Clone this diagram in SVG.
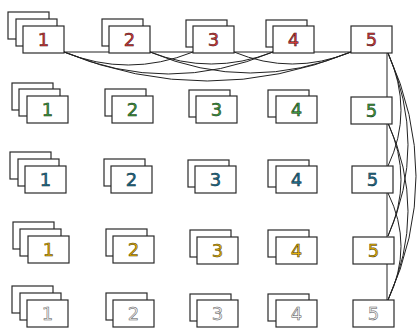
<svg xmlns="http://www.w3.org/2000/svg" width="418" height="329" viewBox="0 0 418 329">
<style>
.c{fill:#fff;stroke:#2a2a2a;stroke-width:1.2}
.e{fill:none;stroke:#222;stroke-width:1}
text{font-family:"DejaVu Sans",sans-serif;font-size:18px;text-anchor:middle;stroke-width:0.5}
.r1{fill:#d63a3a;stroke:#3a1010}
.r2{fill:#3f9a3f;stroke:#123312}
.r3{fill:#1c6f8c;stroke:#0d2a36}
.r4{fill:#e7b10a;stroke:#4a3a00}
.r5{fill:#f4f4f4;stroke:#555}
</style>
<g id="connectors">
<path class="e" d="M64,52 L109,52"/>
<path class="e" d="M64,52 Q128,78 193,52"/>
<path class="e" d="M64,52 Q168,96 273,52"/>
<path class="e" d="M64,52 Q207,110 351,52"/>
<path class="e" d="M150,52 L193,52"/>
<path class="e" d="M150,52 Q211,76 273,52"/>
<path class="e" d="M150,52 Q250,94 351,52"/>
<path class="e" d="M234,52 L273,52"/>
<path class="e" d="M234,52 Q292,76 351,52"/>
<path class="e" d="M314,52 L351,52"/>
<path class="e" d="M387,53 L387,300"/>
<path class="e" d="M388,53 Q414,111 388,166"/>
<path class="e" d="M388,53 Q428,145 388,236"/>
<path class="e" d="M388,53 Q444,176 388,300"/>
<path class="e" d="M388,123 Q414,180 388,236"/>
<path class="e" d="M388,123 Q428,211 388,300"/>
<path class="e" d="M388,193 Q414,246 388,300"/>
</g>
<g id="n1-1"><rect class="c" x="8" y="12" width="41" height="27"/><rect class="c" x="16" y="19" width="41" height="27"/><rect class="c" x="23" y="26" width="41" height="27"/><text class="r1" x="43.5" y="45.5">1</text></g>
<g id="n1-2"><rect class="c" x="102" y="19" width="41" height="27"/><rect class="c" x="109" y="26" width="41" height="27"/><text class="r1" x="129.5" y="45.5">2</text></g>
<g id="n1-3"><rect class="c" x="186" y="20" width="41" height="27"/><rect class="c" x="193" y="26" width="41" height="27"/><text class="r1" x="213.5" y="45.5">3</text></g>
<g id="n1-4"><rect class="c" x="266" y="20" width="41" height="27"/><rect class="c" x="273" y="26" width="41" height="27"/><text class="r1" x="293.5" y="45.5">4</text></g>
<g id="n1-5"><rect class="c" x="351" y="26" width="41" height="27"/><text class="r1" x="371.5" y="45.5">5</text></g>

<g id="n2-1"><rect class="c" x="12" y="83" width="41" height="27"/><rect class="c" x="19" y="89" width="41" height="27"/><rect class="c" x="27" y="96" width="41" height="27"/><text class="r2" x="47.5" y="115.5">1</text></g>
<g id="n2-2"><rect class="c" x="105" y="89" width="41" height="27"/><rect class="c" x="112" y="96" width="41" height="27"/><text class="r2" x="132.5" y="115.5">2</text></g>
<g id="n2-3"><rect class="c" x="189" y="90" width="41" height="27"/><rect class="c" x="196" y="96" width="41" height="27"/><text class="r2" x="216.5" y="115.5">3</text></g>
<g id="n2-4"><rect class="c" x="268" y="90" width="41" height="27"/><rect class="c" x="276" y="96" width="41" height="27"/><text class="r2" x="296.5" y="115.5">4</text></g>
<g id="n2-5"><rect class="c" x="351" y="97" width="41" height="27"/><text class="r2" x="371.5" y="116.5">5</text></g>

<g id="n3-1"><rect class="c" x="10" y="152" width="41" height="27"/><rect class="c" x="18" y="159" width="41" height="27"/><rect class="c" x="25" y="166" width="41" height="27"/><text class="r3" x="45.5" y="185.5">1</text></g>
<g id="n3-2"><rect class="c" x="104" y="159" width="41" height="27"/><rect class="c" x="111" y="166" width="41" height="27"/><text class="r3" x="131.5" y="185.5">2</text></g>
<g id="n3-3"><rect class="c" x="188" y="160" width="41" height="27"/><rect class="c" x="195" y="166" width="41" height="27"/><text class="r3" x="215.5" y="185.5">3</text></g>
<g id="n3-4"><rect class="c" x="268" y="160" width="41" height="27"/><rect class="c" x="276" y="166" width="41" height="27"/><text class="r3" x="296.5" y="185.5">4</text></g>
<g id="n3-5"><rect class="c" x="352" y="166" width="41" height="27"/><text class="r3" x="372.5" y="185.5">5</text></g>

<g id="n4-1"><rect class="c" x="13" y="222" width="41" height="27"/><rect class="c" x="20" y="229" width="41" height="27"/><rect class="c" x="28" y="236" width="41" height="27"/><text class="r4" x="48.5" y="255.5">1</text></g>
<g id="n4-2"><rect class="c" x="106" y="229" width="41" height="27"/><rect class="c" x="113" y="236" width="41" height="27"/><text class="r4" x="133.5" y="255.5">2</text></g>
<g id="n4-3"><rect class="c" x="190" y="230" width="41" height="27"/><rect class="c" x="197" y="237" width="41" height="27"/><text class="r4" x="217.5" y="256.5">3</text></g>
<g id="n4-4"><rect class="c" x="268" y="230" width="41" height="27"/><rect class="c" x="276" y="237" width="41" height="27"/><text class="r4" x="296.5" y="256.5">4</text></g>
<g id="n4-5"><rect class="c" x="353" y="237" width="41" height="27"/><text class="r4" x="373.5" y="256.5">5</text></g>

<g id="n5-1"><rect class="c" x="12" y="286" width="41" height="27"/><rect class="c" x="20" y="293" width="41" height="27"/><rect class="c" x="27" y="300" width="41" height="27"/><text class="r5" x="47.5" y="319.5">1</text></g>
<g id="n5-2"><rect class="c" x="106" y="293" width="41" height="27"/><rect class="c" x="113" y="300" width="41" height="27"/><text class="r5" x="133.5" y="319.5">2</text></g>
<g id="n5-3"><rect class="c" x="190" y="294" width="41" height="27"/><rect class="c" x="197" y="300" width="41" height="27"/><text class="r5" x="217.5" y="319.5">3</text></g>
<g id="n5-4"><rect class="c" x="268" y="294" width="41" height="27"/><rect class="c" x="276" y="300" width="41" height="27"/><text class="r5" x="296.5" y="319.5">4</text></g>
<g id="n5-5"><rect class="c" x="353" y="300" width="41" height="27"/><text class="r5" x="373.5" y="319.5">5</text></g>
</svg>
